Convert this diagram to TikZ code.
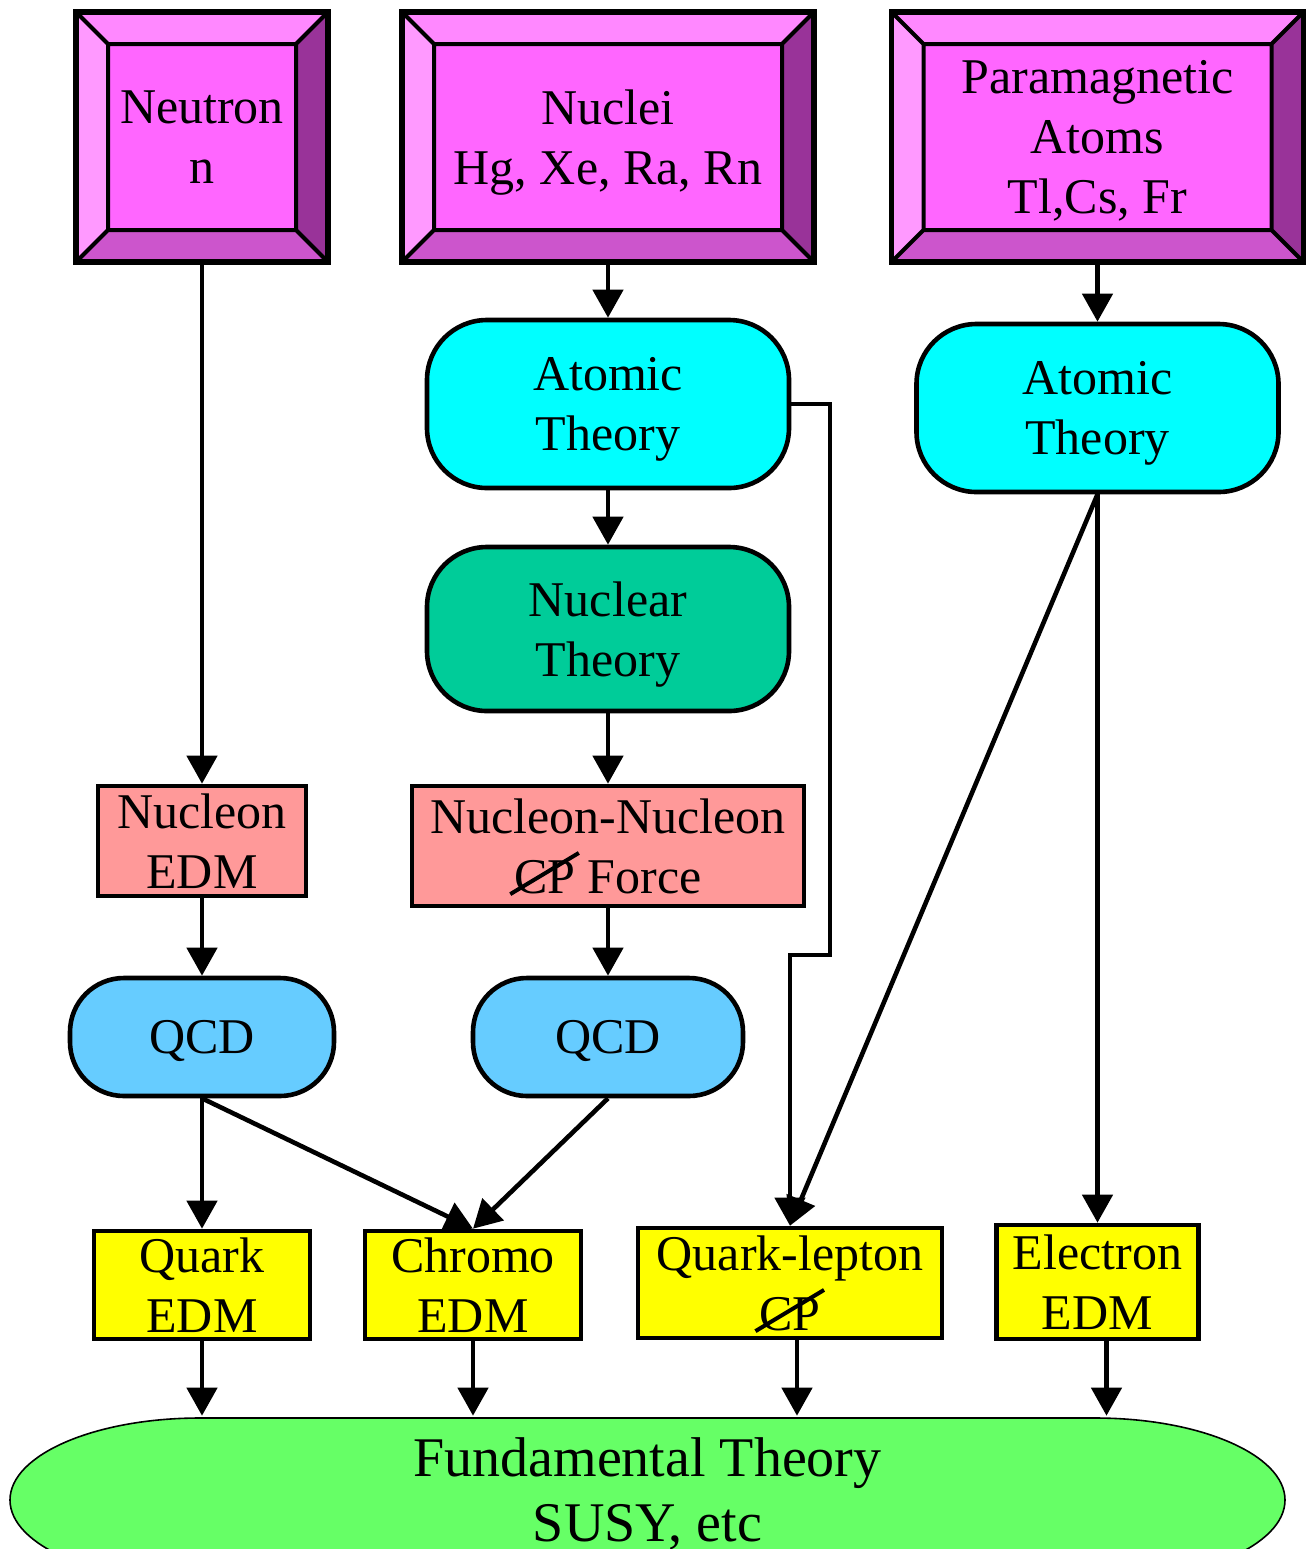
\documentclass[tikz,border=0pt]{standalone}
\usepackage{fontspec}
\setmainfont{Liberation Serif}
\usetikzlibrary{arrows.meta,positioning}

\definecolor{magmid}{HTML}{FF66FF}
\definecolor{bevtop}{HTML}{FF88FF}
\definecolor{bevleft}{HTML}{FF99FF}
\definecolor{bevright}{HTML}{993399}
\definecolor{bevbot}{HTML}{CC55CC}
\definecolor{atomcyan}{HTML}{00FFFF}
\definecolor{nucgreen}{HTML}{00CC99}
\definecolor{salmon}{HTML}{FF9999}
\definecolor{qcdblue}{HTML}{66CCFF}
\definecolor{edmyellow}{HTML}{FFFF00}
\definecolor{fundgreen}{HTML}{66FF66}

% CP with a slash through it
\newcommand{\slashcp}{\makebox[0pt][l]{\hspace{-0.1em}\raisebox{-0.05em}{\rotatebox{31}{\rule{1.6em}{0.08em}}}}CP}

% bevelled frame inside the magenta boxes
\newcommand{\bevels}{%
	\coordinate (a) at (path picture bounding box.north west);
	\coordinate (b) at (path picture bounding box.north east);
	\coordinate (c) at (path picture bounding box.south east);
	\coordinate (d) at (path picture bounding box.south west);
	\coordinate (a1) at ([shift={(16pt,-16pt)}]a);
	\coordinate (b1) at ([shift={(-16pt,-16pt)}]b);
	\coordinate (c1) at ([shift={(-16pt,16pt)}]c);
	\coordinate (d1) at ([shift={(16pt,16pt)}]d);
	\fill[bevtop] (a) -- (b) -- (b1) -- (a1) -- cycle;
	\fill[bevright] (b) -- (c) -- (c1) -- (b1) -- cycle;
	\fill[bevbot] (c) -- (d) -- (d1) -- (c1) -- cycle;
	\fill[bevleft] (d) -- (a) -- (a1) -- (d1) -- cycle;
	\draw[line width=2pt] (a1) -- (b1) -- (c1) -- (d1) -- cycle
		(a) -- (a1) (b) -- (b1) (c) -- (c1) (d) -- (d1);}

\begin{document}
\begin{tikzpicture}
	[x=0.5pt,y=-0.5pt,>={Triangle[length=14pt,width=15pt]},line width=2.3pt,
		font=\fontsize{25}{30}\selectfont,
		bevelbox/.style={draw,line width=2.8pt,fill=magmid,align=center,inner sep=0pt,text depth=0pt,path picture={\bevels}},
		pillbox/.style={draw,rounded corners=30pt,align=center,inner sep=0pt,text depth=0pt},
		plainbox/.style={draw,align=center,inner sep=0pt,text depth=0pt}]

	\useasboundingbox (0,0) rectangle (1309,1549);

	% outline of the fundamental theory, with elliptic ends
	\filldraw[fill=fundgreen,line width=0.8pt] (200,1418) -- (1095,1418)
		arc[start angle=90,end angle=-90,x radius=95pt,y radius=41pt] -- (200,1582)
		arc[start angle=270,end angle=90,x radius=95pt,y radius=41pt] -- cycle;

	\node[bevelbox,minimum width=126pt,minimum height=125pt] (neutron) at (202,137) {Neutron\\n};
	\node[bevelbox,minimum width=206pt,minimum height=125pt] (nuclei) at (608,137) {Nuclei\\Hg, Xe, Ra, Rn};
	\node[bevelbox,minimum width=206pt,minimum height=125pt] (para) at (1097.5,137) {Paramagnetic\\Atoms\\Tl,Cs, Fr};

	\node[pillbox,fill=atomcyan,minimum width=181pt,minimum height=84pt] (atom1) at (608,404) {Atomic\\Theory};
	\node[pillbox,fill=atomcyan,minimum width=181pt,minimum height=84pt] (atom2) at (1097.5,408) {Atomic\\Theory};
	\node[pillbox,fill=nucgreen,minimum width=181pt,minimum height=82pt] (nuclear) at (608,629) {Nuclear\\Theory};

	\node[plainbox,fill=salmon,minimum width=104pt,minimum height=55pt] (nedm) at (202,841) {Nucleon\\EDM};
	\node[plainbox,fill=salmon,minimum width=196pt,minimum height=60pt] (nnforce) at (608,846) {Nucleon-Nucleon\\\slashcp{} Force};

	\node[pillbox,fill=qcdblue,rounded corners=27pt,minimum width=132pt,minimum height=59pt] (qcd1) at (202,1037) {QCD};
	\node[pillbox,fill=qcdblue,rounded corners=27pt,minimum width=135pt,minimum height=59pt] (qcd2) at (608,1037) {QCD};

	\node[plainbox,fill=edmyellow,minimum width=108pt,minimum height=54pt] (quark) at (202,1285) {Quark\\EDM};
	\node[plainbox,fill=edmyellow,minimum width=108pt,minimum height=54pt] (chromo) at (473,1285) {Chromo\\EDM};
	\node[plainbox,fill=edmyellow,minimum width=152pt,minimum height=55pt] (qlep) at (790,1283) {Quark-lepton\\\slashcp};
	\node[plainbox,fill=edmyellow,minimum width=101pt,minimum height=57pt] (elec) at (1097.5,1282) {Electron\\EDM};

	\node[align=center,font=\fontsize{28}{32.5}\selectfont,minimum width=637pt,minimum height=76pt] (fund) at (647.5,1494) {Fundamental Theory\\SUSY, etc};

	\coordinate (detour) at (830,955);

	\draw[->] (neutron) -- (nedm);
	\draw[->] (nuclei) -- (atom1);
	\draw[->] (para) -- (atom2);
	\draw[->] (atom1) -- (nuclear);
	\draw[->] (nuclear) -- (nnforce);
	\draw[->] (nedm) -- (qcd1);
	\draw[->] (nnforce) -- (qcd2);
	\draw[->] (atom1.east) -| (detour) -| (qlep.north);
	\draw[->] (atom2.south) -- (qlep.north);
	\draw[->] (atom2) -- (elec);
	\draw[->] (qcd1) -- (quark);
	\draw[->] (qcd1.south) -- (chromo.north);
	\draw[->] (qcd2.south) -- (chromo.north);
	\draw[->] (quark) -- (quark |- fund.north);
	\draw[->] (chromo) -- (chromo |- fund.north);
	\draw[->] ([xshift=3.5pt]qlep.south) -- ([xshift=3.5pt]qlep.south |- fund.north);
	\draw[->] ([xshift=4.5pt]elec.south) -- ([xshift=4.5pt]elec.south |- fund.north);

\end{tikzpicture}
\end{document}
